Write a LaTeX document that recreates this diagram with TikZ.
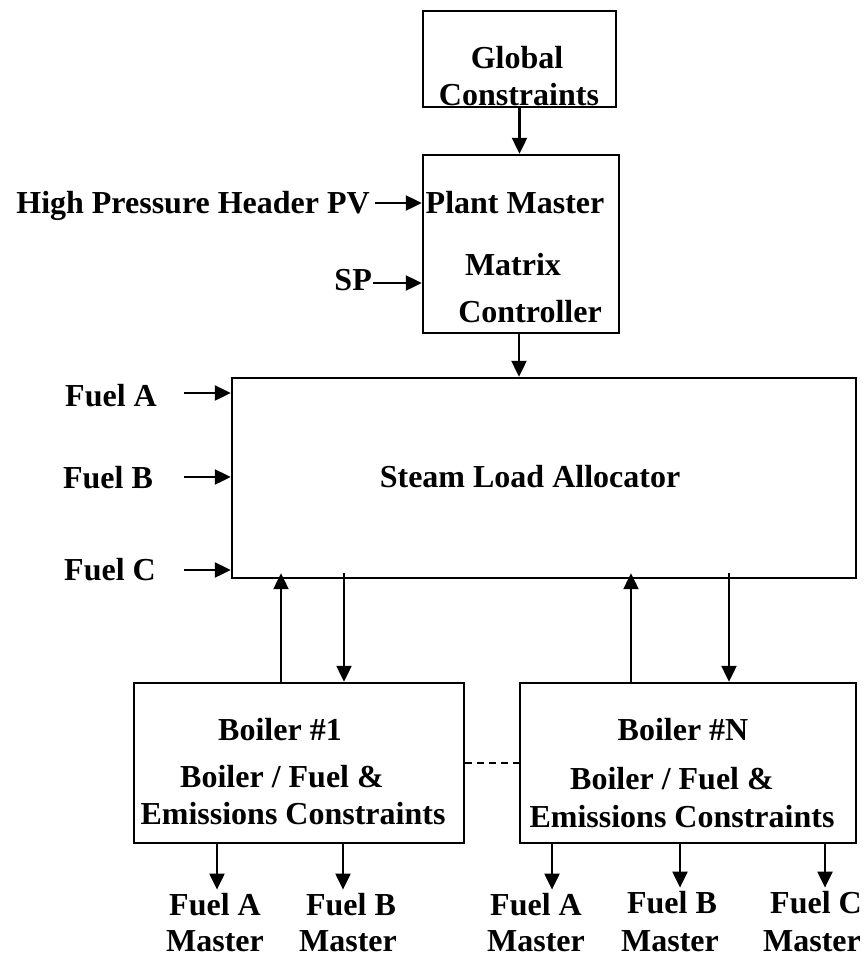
\documentclass[tikz,border=0pt]{standalone}
\usepackage{fontspec}
\setmainfont{Liberation Serif}
\usetikzlibrary{arrows.meta,calc}
\begin{document}
\begin{tikzpicture}[x=1pt,y=-1pt,
  box/.style={draw, line width=2.4pt, inner sep=0pt},
  lbl/.style={font=\fontsize{32}{34}\selectfont\bfseries, inner sep=0pt},
  olbl/.style={font=\fontsize{32}{34}\selectfont\bfseries, inner sep=3pt},
  arr/.style={line width=2.2pt, -{Triangle[length=16pt,width=15pt]}},
  dashline/.style={line width=1.8pt, dash pattern=on 7pt off 5pt}]
\useasboundingbox (0,0) rectangle (866,958);
% boxes
\node[box, minimum width=193, minimum height=96] (gc) at (519.5,59) {};
\node[box, minimum width=196, minimum height=178] (pm) at (521,244) {};
\node[box, minimum width=624, minimum height=200] (sla) at (544,478) {};
\node[box, minimum width=330, minimum height=160] (b1) at (299,763) {};
\node[box, minimum width=336, minimum height=160] (bN) at (688,763) {};
% texts in boxes
\node[lbl, anchor=base] (t1) at (517,68) {Global};
\node[lbl, anchor=base] (t2) at (519,105) {Constraints};
\node[lbl, anchor=base] (t3) at (515,213) {Plant Master};
\node[lbl, anchor=base] (t4) at (513,275) {Matrix};
\node[lbl, anchor=base] (t5) at (530,322) {Controller};
\node[lbl, anchor=base] (t6) at (530,487) {Steam Load Allocator};
\node[lbl, anchor=base] (t7) at (280,740) {Boiler \#1};
\node[lbl, anchor=base] (t8) at (282,787) {Boiler / Fuel \&};
\node[lbl, anchor=base] (t9) at (293,824) {Emissions Constraints};
\node[lbl, anchor=base] (t10) at (683,740) {Boiler \#N};
\node[lbl, anchor=base] (t11) at (672,789) {Boiler / Fuel \&};
\node[lbl, anchor=base] (t12) at (682,827) {Emissions Constraints};
% input labels
\node[lbl, anchor=base east] (hp) at (370,213) {High Pressure Header PV};
\node[lbl, anchor=base east] (sp) at (372,290) {SP};
\node[lbl, anchor=base] (fa) at (111,406) {Fuel A};
\node[lbl, anchor=base] (fb) at (108,488) {Fuel B};
\node[lbl, anchor=base] (fc) at (110,580) {Fuel C};
% output labels
\node[olbl, anchor=base] (o1) at (215,915) {Fuel A};
\node[lbl, anchor=base] (o1m) at (215,951) {Master};
\node[olbl, anchor=base] (o2) at (351,915) {Fuel B};
\node[lbl, anchor=base] (o2m) at (348,951) {Master};
\node[olbl, anchor=base] (o3) at (536,915) {Fuel A};
\node[lbl, anchor=base] (o3m) at (536,951) {Master};
\node[olbl, anchor=base] (o4) at (672,913) {Fuel B};
\node[lbl, anchor=base] (o4m) at (670,951) {Master};
\node[olbl, anchor=base] (o5) at (816,913) {Fuel C};
\node[lbl, anchor=base] (o5m) at (812,951) {Master};
% input arrow start points
\coordinate (hpA) at (375,203);
\coordinate (spA) at (373,283);
\coordinate (faA) at (184,393);
\coordinate (fbA) at (184,477);
\coordinate (fcA) at (184,570);
% connectors
\draw[arr] (gc.south) -- (gc.south |- pm.north);
\draw[arr] ([xshift=-2pt]pm.south) -- ([xshift=-2pt]pm.south |- sla.north);
\draw[arr] (hpA) -- (hpA -| pm.west);
\draw[arr] (spA) -- (spA -| pm.west);
\draw[arr] (faA) -- (faA -| sla.west);
\draw[arr] (fbA) -- (fbA -| sla.west);
\draw[arr] (fcA) -- (fcA -| sla.west);
\draw[arr] ([xshift=-18pt]b1.north) -- ([xshift=-18pt,yshift=6pt]b1.north |- sla.south);
\draw[arr] ([xshift=45pt,yshift=6pt]b1.north |- sla.south) -- ([xshift=45pt]b1.north);
\draw[arr] ([xshift=-57pt]bN.north) -- ([xshift=-57pt,yshift=6pt]bN.north |- sla.south);
\draw[arr] ([xshift=41pt,yshift=6pt]bN.north |- sla.south) -- ([xshift=41pt]bN.north);
\draw[dashline] (b1.east) -- (bN.west);
\draw[arr] ([xshift=-82pt]b1.south) -- ([xshift=-82pt]b1.south |- o1.north);
\draw[arr] ([xshift=44pt]b1.south) -- ([xshift=44pt]b1.south |- o2.north);
\draw[arr] ([xshift=-136pt]bN.south) -- ([xshift=-136pt]bN.south |- o3.north);
\draw[arr] ([xshift=-8pt]bN.south) -- ([xshift=-8pt]bN.south |- o4.north);
\draw[arr] ([xshift=137pt]bN.south) -- ([xshift=137pt]bN.south |- o5.north);
\end{tikzpicture}
\end{document}
